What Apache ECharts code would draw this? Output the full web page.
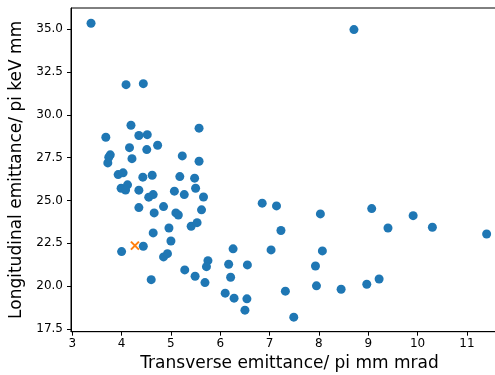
<!DOCTYPE html>
<html>
<head>
<meta charset="utf-8">
<script src="https://cdn.jsdelivr.net/npm/echarts@6/dist/echarts.min.js"></script>
<style>
  html, body { margin: 0; padding: 0; background: #fff; overflow: hidden; }
  #chart { width: 495px; height: 375px; }
</style>
</head>
<body>
<div id="chart"></div>
<script>
// transverse emittance (x) and longitudinal emittance (y) of each bunch
var transX = [3.38, 8.71, 4.09, 4.44, 4.19, 5.57, 3.68, 4.35, 4.52, 4.73,
              4.16, 4.51, 3.77, 3.74, 3.72, 4.21, 5.23, 5.57, 3.93, 4.03,
              4.43, 4.62, 5.18, 5.48, 3.99, 4.12, 4.08, 4.35, 4.55, 4.64,
              5.07, 5.27, 5.50, 5.66, 4.35, 4.66, 4.85, 5.10, 5.15, 5.62,
              5.41, 5.53, 4.96, 4.64, 5.00, 4.44, 4.00, 4.85, 4.93, 5.75,
              5.72, 6.17, 6.26, 6.55, 5.28, 5.49, 5.69, 4.60, 6.21, 6.10,
              6.28, 6.54, 6.50, 6.85, 7.14, 7.03, 7.23, 8.03, 8.07, 7.93,
              7.95, 7.32, 7.49, 8.45, 8.97, 9.22, 9.07, 9.40, 9.91, 10.30,
              11.40];
var longY = [35.35, 34.98, 31.76, 31.82, 29.39, 29.22, 28.69, 28.79, 28.84, 28.22,
             28.08, 27.97, 27.66, 27.52, 27.19, 27.44, 27.60, 27.29, 26.51, 26.61,
             26.36, 26.47, 26.39, 26.30, 25.71, 25.91, 25.61, 25.60, 25.19, 25.34,
             25.54, 25.34, 25.71, 25.20, 24.58, 24.27, 24.64, 24.27, 24.15, 24.45,
             23.49, 23.70, 23.39, 23.10, 22.63, 22.32, 22.01, 21.70, 21.89, 21.48,
             21.13, 21.27, 22.17, 21.23, 20.94, 20.57, 20.20, 20.37, 20.51, 19.58,
             19.29, 19.25, 18.59, 24.84, 24.68, 22.11, 23.24, 24.21, 22.05, 21.17,
             20.01, 19.70, 18.18, 19.81, 20.10, 20.41, 24.52, 23.39, 24.11, 23.43,
             23.04];
// the marked one
var markX = [4.27];
var markY = [22.36];

var xTicks = [3, 4, 5, 6, 7, 8, 9, 10, 11];
var yTicks = [17.5, 20.0, 22.5, 25.0, 27.5, 30.0, 32.5, 35.0];

function pairs(xs, ys) {
    var out = [];
    for (var i = 0; i < xs.length; i++) {
        out.push([xs[i], ys[i]]);
    }
    return out;
}

var font = 'DejaVu Sans';
var chart = echarts.init(document.getElementById('chart'));

chart.setOption({
    animation: false,
    backgroundColor: '#fff',
    // plot box runs past the right edge of the picture
    grid: {
        left: 71, top: 8, width: 437, height: 323.7,
        outerBoundsMode: 'none',
        containLabel: false,
        show: true, borderColor: '#000', borderWidth: 1
    },
    xAxis: {
        type: 'value',
        min: 2.974, max: 11.833,
        name: 'Transverse emittance/ pi mm mrad',
        nameLocation: 'middle',
        nameGap: 23,
        nameTextStyle: { fontFamily: font, fontSize: 17, color: '#000' },
        axisLine: { lineStyle: { color: '#000', width: 1 } },
        axisTick: { length: 4, lineStyle: { color: '#000' }, customValues: xTicks },
        axisLabel: {
            customValues: xTicks,
            fontFamily: font, fontSize: 12, color: '#000', margin: 6
        },
        splitLine: { show: false }
    },
    yAxis: {
        type: 'value',
        min: 17.33, max: 36.24,
        name: 'Longitudinal emittance/ pi keV mm',
        nameLocation: 'middle',
        nameGap: 38,
        nameTextStyle: { fontFamily: font, fontSize: 17, color: '#000' },
        axisLine: { lineStyle: { color: '#000', width: 1 } },
        axisTick: { length: 4, lineStyle: { color: '#000' }, customValues: yTicks },
        axisLabel: {
            customValues: yTicks,
            fontFamily: font, fontSize: 12, color: '#000', margin: 8,
            formatter: function (v) { return v.toFixed(1); }
        },
        splitLine: { show: false }
    },
    series: [{
        type: 'scatter',
        data: pairs(transX, longY),
        symbol: 'circle',
        symbolSize: 9,
        itemStyle: { color: '#1f77b4', opacity: 1 }
    }, {
        type: 'scatter',
        data: pairs(markX, markY),
        symbol: 'path://M0,0L10,10M10,0L0,10',
        symbolSize: 8,
        itemStyle: { color: 'none', borderColor: '#ff7f0e', borderWidth: 2, opacity: 1 }
    }]
});
</script>
</body>
</html>
